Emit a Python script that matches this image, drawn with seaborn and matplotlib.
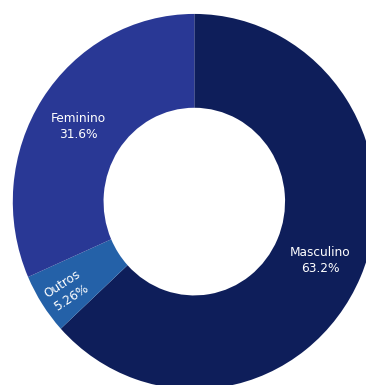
import matplotlib
matplotlib.use("Agg")
import matplotlib.pyplot as plt
import seaborn as sns

# Data
categories = ["Masculino", "Outros", "Feminino"]
counts = [12, 1, 6]
colors = ["#0e1e5a", "#2461a8", "#293895"]

sns.set_theme(style="white")
plt.rcParams["font.family"] = ["DejaVu Sans"]

W, H = 366, 385
SY = 1.034  # vertical stretch of the drawing area

fig = plt.figure(figsize=(W / 100, H / 100), dpi=100)
ax = fig.add_axes([0, 0, 1, 1])


def to_data(xp, yp):
    """Pixel position (from top-left) to data coordinates."""
    return xp, (H - yp) / SY


cx, cy = to_data(194.3, 201.6)
R = 181.5
wedges, _ = ax.pie(
    counts,
    colors=colors,
    startangle=90,
    counterclock=False,
    center=(cx, cy),
    radius=R,
    wedgeprops=dict(width=R * 0.5, linewidth=0),
)

total = sum(counts)
pcts = [100 * c / total for c in counts]


def fmt(p):
    return f"{p:.3g}%"


# label placement (pixel coordinates from top-left) and rotation
label_pos = {"Masculino": (320, 261, 0), "Outros": (67, 291, 33), "Feminino": (78, 127, 0)}

for cat, p in zip(categories, pcts):
    xp, yp, rot = label_pos[cat]
    x, y = to_data(xp, yp)
    ax.text(x, y, f"{cat}\n{fmt(p)}", ha="center", va="center",
            color="white", fontsize=8.7, rotation=rot, rotation_mode="anchor",
            linespacing=1.3)

ax.set_xlim(0, W)
ax.set_ylim(0, H / SY)
ax.set_aspect("auto")
ax.axis("off")
fig.savefig("out.png", dpi=100, facecolor="white")
